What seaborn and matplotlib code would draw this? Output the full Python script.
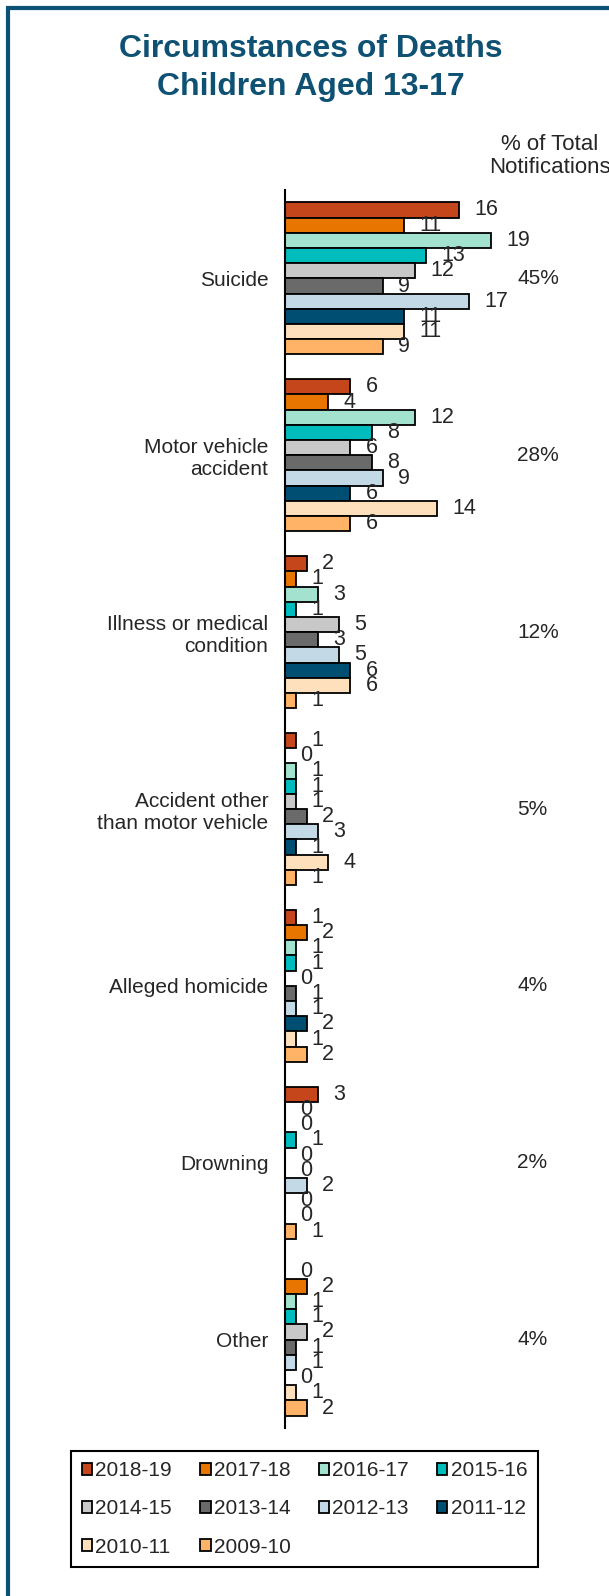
import matplotlib
matplotlib.use("Agg")
import matplotlib.pyplot as plt
import matplotlib.transforms as mtransforms
from matplotlib.lines import Line2D
import numpy as np
import pandas as pd
import seaborn as sns

categories = ["Suicide", "Motor vehicle\naccident", "Illness or medical\ncondition",
              "Accident other\nthan motor vehicle", "Alleged homicide", "Drowning", "Other"]
years = ["2018-19", "2017-18", "2016-17", "2015-16", "2014-15",
         "2013-14", "2012-13", "2011-12", "2010-11", "2009-10"]
suicide = [16, 11, 19, 13, 12, 9, 17, 11, 11, 9]
motor_vehicle = [6, 4, 12, 8, 6, 8, 9, 6, 14, 6]
illness = [2, 1, 3, 1, 5, 3, 5, 6, 6, 1]
accident_other = [1, 0, 1, 1, 1, 2, 3, 1, 4, 1]
homicide = [1, 2, 1, 1, 0, 1, 1, 2, 1, 2]
drowning = [3, 0, 0, 1, 0, 0, 2, 0, 0, 1]
other = [0, 2, 1, 1, 2, 1, 1, 0, 1, 2]
pct_total = ["45%", "28%", "12%", "5%", "4%", "2%", "4%"]

colors = ["#c4461a", "#e87500", "#a3e2cf", "#00bcbc", "#c8c8c8",
          "#6a6a6a", "#c4d9e6", "#004f73", "#ffe0bd", "#ffb366"]

series = [suicide, motor_vehicle, illness, accident_other, homicide, drowning, other]
rows = []
for cat, vals in zip(categories, series):
    for yr, v in zip(years, vals):
        rows.append({"category": cat, "year": yr, "value": v})
df = pd.DataFrame(rows)

sns.set_style("white")
plt.rcParams["font.family"] = ["Liberation Sans", "DejaVu Sans"]

FS = 15
W, H = 609, 1596
fig = plt.figure(figsize=(W / 100, H / 100), dpi=100)
ax_left, ax_right = 285 / W, 502 / W
ax_top, ax_bot = 1 - 190 / H, 1 - 1428 / H
ax = fig.add_axes([ax_left, ax_bot, ax_right - ax_left, ax_top - ax_bot])

sns.barplot(data=df, y="category", x="value", hue="year", order=categories,
            hue_order=years, palette=colors, orient="h", width=0.86,
            edgecolor="black", linewidth=1.3, ax=ax, saturation=1, legend=True)

ax.set_xlim(0, 20)
ax.set_ylim(6.5, -0.5)
for s in ["top", "right", "bottom"]:
    ax.spines[s].set_visible(False)
ax.spines["left"].set_linewidth(1.5)
ax.spines["left"].set_color("black")
ax.set_xticks([])
ax.set_xlabel("")
ax.set_ylabel("")
ax.set_yticks(range(len(categories)))
ax.set_yticklabels(categories, fontsize=FS, multialignment="right")
ax.tick_params(axis="y", which="major", length=0, pad=12)
ax.set_yticks(np.arange(-0.5, len(categories)), minor=True)
ax.tick_params(axis="y", which="minor", length=5, width=1.3, color="black", direction="out")

for cont in ax.containers:
    ax.bar_label(cont, labels=[f"{int(v)}" for v in cont.datavalues],
                 padding=11, fontsize=15.5)

leg = ax.get_legend()
handles, labels = ax.get_legend_handles_labels()
if leg is not None:
    leg.remove()
order = [0, 4, 8, 1, 5, 9, 2, 6, 3, 7]
fig.legend([handles[i] for i in order], [labels[i] for i in order], ncol=4, loc="center",
           bbox_to_anchor=(304.5 / W, 1 - 1509 / H), fontsize=FS,
           frameon=True, fancybox=False, edgecolor="black", framealpha=1,
           handlelength=0.5, handleheight=0.5, handletextpad=0.15,
           columnspacing=1.35, labelspacing=0.92, borderpad=0.5, borderaxespad=0)
fig.legends[0].get_frame().set_linewidth(1.5)

trans = mtransforms.blended_transform_factory(fig.transFigure, ax.transData)
for i, p in enumerate(pct_total):
    ax.text(517 / W, i, p, transform=trans, fontsize=FS, ha="left", va="center", clip_on=False)

title_color = "#0f5173"
fig.text(311 / W, 1 - 57 / H, "Circumstances of Deaths", ha="center", va="baseline",
         fontsize=23, fontweight="bold", color=title_color)
fig.text(311 / W, 1 - 95 / H, "Children Aged 13-17", ha="center", va="baseline",
         fontsize=23, fontweight="bold", color=title_color)
fig.text(550 / W, 1 - 150 / H, "% of Total", ha="center", va="baseline", fontsize=16)
fig.text(550 / W, 1 - 173 / H, "Notifications", ha="center", va="baseline", fontsize=16)

border_color = "#0a5275"
fig.add_artist(Line2D([8 / W, 8 / W], [0, 1 - 8 / H], transform=fig.transFigure,
                      color=border_color, linewidth=3, solid_capstyle="butt"))
fig.add_artist(Line2D([6 / W, 1], [1 - 8 / H, 1 - 8 / H], transform=fig.transFigure,
                      color=border_color, linewidth=3, solid_capstyle="butt"))

fig.savefig("out.png", dpi=100)
